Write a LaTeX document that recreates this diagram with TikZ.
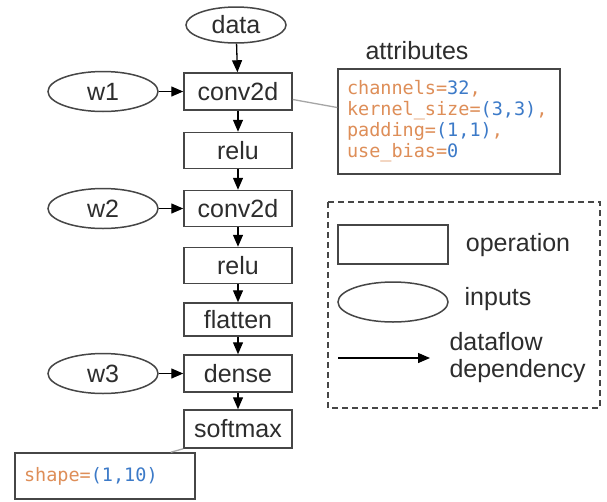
\documentclass[tikz,border=0pt]{standalone}
\usepackage{fontspec}
\setmainfont{Liberation Sans}
\newfontfamily\codefont{DejaVu Sans Mono}
\usetikzlibrary{shapes.geometric,arrows.meta}
\definecolor{ink}{RGB}{45,45,45}
\definecolor{edge}{RGB}{70,70,70}
\definecolor{kw}{RGB}{222,142,88}
\definecolor{num}{RGB}{60,122,200}
\newcommand{\kw}[1]{\textcolor{kw}{#1}}
\newcommand{\nm}[1]{\textcolor{num}{#1}}
\tikzset{
  lbl/.style={text=ink,font=\fontsize{25}{28}\selectfont},
  opbox/.style={draw=edge,line width=1.5pt,rectangle,minimum width=108pt,minimum height=36pt,inner sep=0pt,lbl},
  inp/.style={draw=edge,line width=1.5pt,ellipse,minimum width=110pt,minimum height=40pt,inner sep=0pt,lbl},
  flow/.style={draw=black,line width=1.3pt,-{Triangle[length=12pt,width=10pt]}},
  attrline/.style={draw=gray!70,line width=1.3pt},
  codebox/.style={draw=edge,line width=1.5pt,rectangle,inner ysep=0pt,inner xsep=9pt,align=left,
     font=\codefont\fontsize{18.5}{21}\selectfont},
}
\begin{document}
\begin{tikzpicture}[x=1pt,y=-1pt]
\useasboundingbox[fill=white] (0,0) rectangle (607,501);
% main column
\node[inp,minimum width=100pt,minimum height=36pt] (data) at (236,25) {data};
\node[opbox,minimum height=37pt] (c1) at (238,91.5) {conv2d};
\node[opbox] (r1) at (238,150.5) {relu};
\node[opbox] (c2) at (238,208.5) {conv2d};
\node[opbox] (r2) at (238,265.5) {relu};
\node[opbox,minimum height=33pt] (fl) at (238,319.5) {flatten};
\node[opbox,minimum height=37pt] (de) at (238,373.5) {dense};
\node[opbox,minimum height=38pt] (sm) at (238,429) {softmax};
% inputs
\node[inp] (w1) at (103,91.5) {w1};
\node[inp] (w2) at (103,208.5) {w2};
\node[inp] (w3) at (103,373.5) {w3};
% flows
\draw[flow] (data) -- (c1);
\draw[flow] (c1) -- (r1);
\draw[flow] (r1) -- (c2);
\draw[flow] (c2) -- (r2);
\draw[flow] (r2) -- (fl);
\draw[flow] (fl) -- (de);
\draw[flow] (de) -- (sm);
\draw[flow] (w1) -- (c1);
\draw[flow] (w2) -- (c2);
\draw[flow] (w3) -- (de);
% attributes
\node[lbl] (attrt) at (417,51) {attributes};
\node[codebox,text width=204pt,minimum height=105pt] (attr) at (449,121.5)
 {\kw{channels=}\nm{32}\kw{,}\\
  \kw{kernel\_size=}\nm{(3,3)}\kw{,}\\
  \kw{padding=}\nm{(1,1)}\kw{,}\\
  \kw{use\_bias=}\nm{0}};
\draw[attrline] ([yshift=-8pt]c1.east) -- ([yshift=14pt]attr.west);
% shape
\node[codebox,text width=162pt,minimum height=46pt] (shp) at (105,476) {\kw{shape=}\nm{(1,10)}};
\draw[attrline] (sm.south west) -- ([xshift=-25pt]shp.north east);
% legend
\draw[edge,line width=1.5pt,dash pattern=on 6pt off 4pt] (328,202) rectangle (600,408);
\node[opbox,minimum width=110pt,minimum height=39pt] (lop) at (393,244.5) {};
\node[lbl] (lopt) at (518,245) {operation};
\node[inp] (linp) at (393,302) {};
\node[lbl] (linpt) at (498,299) {inputs};
\coordinate (la) at (338,358);
\coordinate (lb) at (430,358);
\draw[flow] (la) -- (lb);
\node[lbl,anchor=west,align=left,font=\fontsize{25}{27}\selectfont] (lft) at (446,358) {dataflow\\dependency};
\end{tikzpicture}
\end{document}
